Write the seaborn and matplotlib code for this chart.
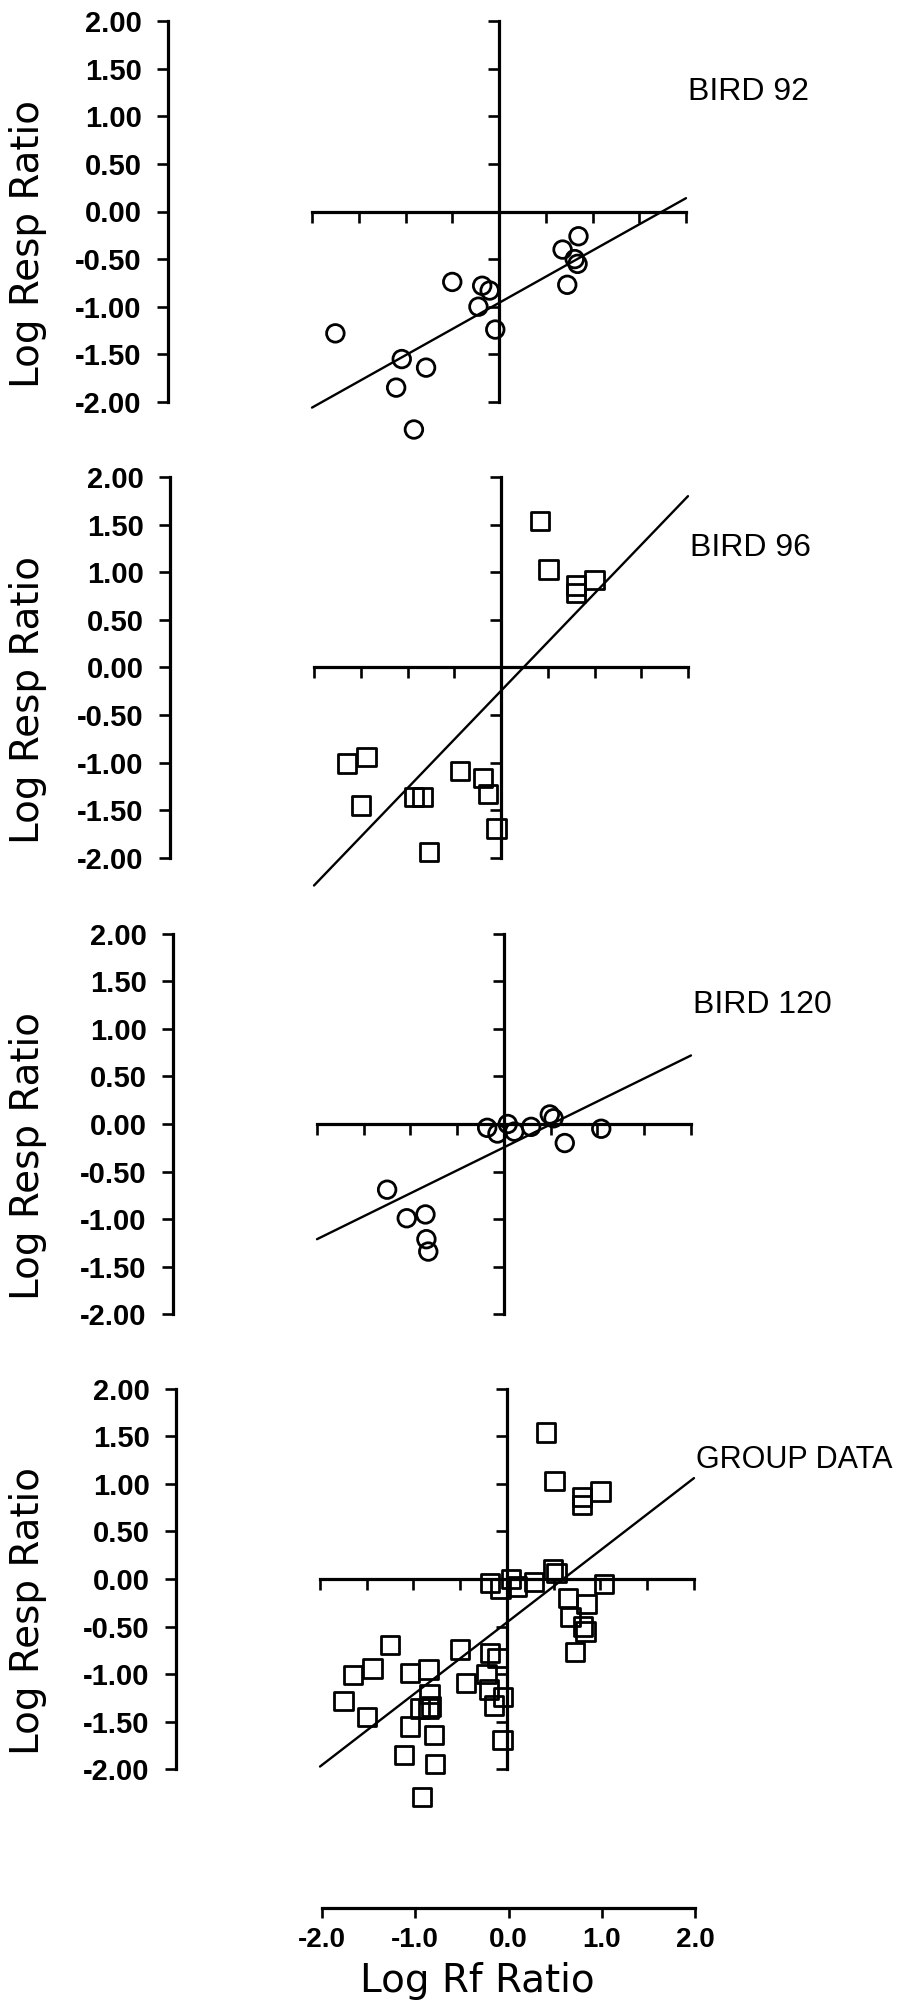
import numpy as np
import pandas as pd
import matplotlib
matplotlib.use("Agg")
import matplotlib.pyplot as plt
import seaborn as sns

# ---------------- data ----------------
b92_x = [-1.75, -0.50, -0.18, -0.10, -0.22, -0.04, -1.04, -0.78, -1.10, -0.91, 0.68, 0.85, 0.73, 0.84, 0.81]
b92_y = [-1.28, -0.74, -0.78, -0.83, -1.00, -1.24, -1.55, -1.64, -1.85, -2.29, -0.40, -0.26, -0.77, -0.55, -0.50]

b96_x = [0.42, 0.51, 0.80, 0.80, 1.00, -1.65, -1.44, -1.50, -0.93, -0.84, -0.44, -0.19, -0.14, -0.05, -0.77]
b96_y = [1.54, 1.03, 0.86, 0.78, 0.92, -1.01, -0.94, -1.45, -1.36, -1.36, -1.09, -1.16, -1.33, -1.69, -1.94]

b120_x = [-1.25, -1.04, -0.84, -0.83, -0.81, -0.18, -0.07, 0.04, 0.11, 0.29, 0.49, 0.53, 0.65, 1.04]
b120_y = [-0.69, -0.99, -0.95, -1.21, -1.34, -0.04, -0.10, 0.00, -0.08, -0.03, 0.10, 0.06, -0.20, -0.05]

# fitted lines, read at the ends of the x range
fit_x = [-2.0, 2.0]
fit_92 = [-2.06, 0.14]
fit_96 = [-2.29, 1.80]
fit_120 = [-1.21, 0.72]
fit_group = [-1.97, 1.06]

panel_labels = ["BIRD 92", "BIRD 96", "BIRD 120", "GROUP DATA"]
y_ticks = [-2.0, -1.5, -1.0, -0.5, 0.0, 0.5, 1.0, 1.5, 2.0]
inner_x_ticks = [-2.0, -1.5, -1.0, -0.5, 0.0, 0.5, 1.0, 1.5, 2.0]
bottom_x_ticks = [-2.0, -1.0, 0.0, 1.0, 2.0]
y_label = "Log Resp Ratio"
x_label = "Log Rf Ratio"

group_x = b92_x + b96_x + b120_x
group_y = b92_y + b96_y + b120_y

panels = [
    (b92_x, b92_y, fit_92, "o"),
    (b96_x, b96_y, fit_96, "s"),
    (b120_x, b120_y, fit_120, "o"),
    (group_x, group_y, fit_group, "s"),
]

# ---------------- style ----------------
sns.set_theme(style="white")
plt.rcParams["font.family"] = ["Liberation Sans", "DejaVu Sans"]
plt.rcParams["axes.unicode_minus"] = True

W, H = 906, 2004
DPI = 100
fig = plt.figure(figsize=(W / DPI, H / DPI), dpi=DPI, facecolor="white")


def add_axes_px(left, top, width, height):
    return fig.add_axes([left / W, 1 - (top + height) / H, width / W, height / H])


SX, SY = 93.5, 95.2           # px per data unit
XLIM = (-3.54, 4.1)
YLIM = (-2.5, 2.2)
x0s = [499, 501, 504, 507]     # px of x = 0 in each panel
y0s = [211.5, 667.5, 1124, 1579]  # px of y = 0 in each panel
label_sizes = [23, 23, 23, 22]

LW = 2.3
TICK_LEN = 8
TICK_W = 1.9

for i, (px, py, fy, mk) in enumerate(panels):
    x0, y0 = x0s[i], y0s[i]
    left = x0 + XLIM[0] * SX
    width = (XLIM[1] - XLIM[0]) * SX
    top = y0 - YLIM[1] * SY
    height = (YLIM[1] - YLIM[0]) * SY
    ax = add_axes_px(left, top, width, height)
    ax.set_facecolor("none")
    ax.set_xlim(*XLIM)
    ax.set_ylim(*YLIM)

    df = pd.DataFrame({"x": px, "y": py})
    sns.scatterplot(data=df, x="x", y="y", ax=ax, marker=mk,
                    s=160 if mk == "o" else 175,
                    fc="none", ec="black", linewidth=2.0,
                    legend=False, zorder=4, clip_on=False)
    sns.lineplot(x=fit_x, y=fy, ax=ax, color="black", lw=1.7, zorder=3)

    # left (labelled) axis
    ax.spines["left"].set_bounds(-2, 2)
    ax.spines["left"].set_linewidth(LW)
    ax.spines["left"].set_color("black")
    ax.set_yticks(y_ticks)
    ax.set_yticklabels([f"{v:.2f}" for v in y_ticks], fontsize=21,
                       fontweight="bold")
    ax.tick_params(axis="y", direction="out", length=TICK_LEN, width=TICK_W,
                   pad=11, colors="black", left=True)

    # horizontal axis through y = 0
    ax.spines["bottom"].set_position(("data", 0.0))
    ax.spines["bottom"].set_bounds(-2, 2)
    ax.spines["bottom"].set_linewidth(LW)
    ax.spines["bottom"].set_color("black")
    ax.set_xticks(inner_x_ticks)
    ax.tick_params(axis="x", direction="out", length=TICK_LEN, width=TICK_W,
                   labelbottom=False, bottom=True, colors="black")
    ax.spines["top"].set_visible(False)
    ax.spines["right"].set_visible(False)
    ax.set_xlabel("")

    ax.set_ylabel(y_label, fontsize=28, family=["DejaVu Sans"], color="black")
    ax.yaxis.set_label_coords((47 - left) / width, (-0.34 - YLIM[0]) / (YLIM[1] - YLIM[0]))

    # vertical axis through x = 0
    ax2 = ax.twinx()
    ax2.set_ylim(*YLIM)
    for s in ["left", "top", "bottom"]:
        ax2.spines[s].set_visible(False)
    ax2.spines["right"].set_position(("data", 0.0))
    ax2.spines["right"].set_bounds(-2, 2)
    ax2.spines["right"].set_linewidth(LW)
    ax2.spines["right"].set_color("black")
    ax2.set_yticks(y_ticks)
    ax2.tick_params(axis="y", direction="in", length=TICK_LEN, width=TICK_W,
                    labelright=False, right=True, colors="black")
    ax2.grid(False)

    ax.text(2.02, 1.25, panel_labels[i], ha="left", va="center",
            fontsize=label_sizes[i], color="black")

# shared bottom x axis
axb = add_axes_px(322, 1860, 373, 48)
axb.set_facecolor("none")
axb.set_xlim(-2, 2)
axb.set_ylim(0, 1)
for s in ["left", "top", "right"]:
    axb.spines[s].set_visible(False)
axb.spines["bottom"].set_linewidth(LW)
axb.spines["bottom"].set_color("black")
axb.set_yticks([])
axb.set_xticks(bottom_x_ticks)
axb.set_xticklabels([f"{v:.1f}" for v in bottom_x_ticks], fontsize=20,
                    fontweight="bold")
axb.tick_params(axis="x", direction="out", length=7, width=TICK_W, pad=7,
                colors="black", bottom=True)
axb.set_xlabel(x_label, fontsize=28, family=["DejaVu Sans"], color="black")
axb.xaxis.set_label_coords((477 - 322) / 373, -1.12)

fig.savefig("out.png", dpi=DPI, facecolor="white")
